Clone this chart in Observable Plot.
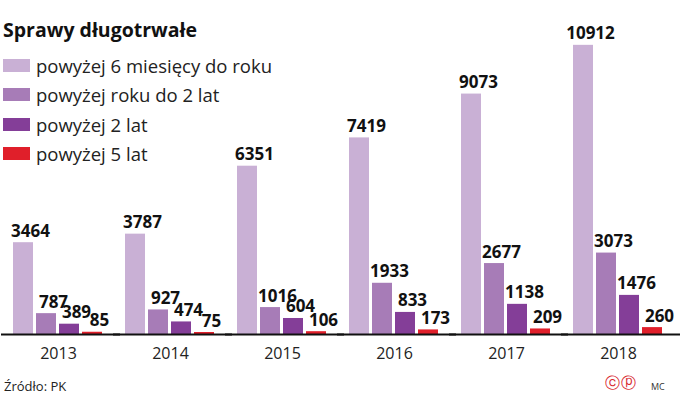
<!DOCTYPE html>
<html>
<head>
<meta charset="utf-8">
<script src="https://cdn.jsdelivr.net/npm/d3@7"></script>
<script src="https://cdn.jsdelivr.net/npm/@observablehq/plot@0.6"></script>
<style>
  html, body { margin: 0; padding: 0; background: #fff; }
  #wrap { position: relative; width: 680px; height: 399px; overflow: hidden; font-family: "Open Sans", sans-serif; color: #222; }
  #chart { position: absolute; left: 0; top: 0; }
  .title { position: absolute; left: 3px; top: 16px; font-size: 19.5px; font-weight: 700; color: #111; white-space: nowrap; }
  .legend { position: absolute; left: 3px; top: 51px; }
  .row { display: flex; align-items: center; height: 29.3px; font-size: 18.5px; color: #222; white-space: nowrap; }
  .sw { width: 27px; height: 13px; margin-right: 6px; }
  .src { position: absolute; left: 4px; top: 377px; font-size: 13px; color: #222; }
  .logo { position: absolute; left: 605px; top: 374px; font-size: 15px; color: #d8262e; font-family: "DejaVu Sans", sans-serif; letter-spacing: 1px; }
  .mc { position: absolute; left: 651px; top: 380px; font-size: 9px; color: #333; }
</style>
</head>
<body>
<div id="wrap">
  <div id="chart"></div>
  <div class="title">Sprawy długotrwałe</div>
  <div class="legend" id="legend"></div>
  <div class="src">Źródło: PK</div>
  <div class="logo">ⓒⓟ</div>
  <div class="mc">MC</div>
</div>
<script>
const years = ["2013", "2014", "2015", "2016", "2017", "2018"];
const seriesNames = ["powyżej 6 miesięcy do roku", "powyżej roku do 2 lat", "powyżej 2 lat", "powyżej 5 lat"];
const colors = ["#c9b0d5", "#a77cb7", "#843e98", "#e01f2a"];
const s6mTo1y = [3464, 3787, 6351, 7419, 9073, 10912];
const s1yTo2y = [787, 927, 1016, 1933, 2677, 3073];
const sOver2y = [389, 474, 604, 833, 1138, 1476];
const sOver5y = [85, 75, 106, 173, 209, 260];

const seriesValues = [s6mTo1y, s1yTo2y, sOver2y, sOver5y];
const data = [];
years.forEach((year, i) => {
  seriesNames.forEach((s, j) => {
    data.push({year, series: s, value: seriesValues[j][i]});
  });
});

const chart = Plot.plot({
  width: 680,
  height: 370,
  marginLeft: 13,
  marginRight: 17,
  marginTop: 16,
  marginBottom: 36,
  style: {fontFamily: "Open Sans, sans-serif", fontSize: "16px", color: "#222", background: "transparent"},
  fx: {domain: years, paddingInner: 0.2, paddingOuter: 0, axis: "bottom", tickSize: 0, tickPadding: 13, label: null},
  x: {domain: seriesNames, paddingInner: 0.12, paddingOuter: 0, axis: null},
  y: {domain: [0, 12000], axis: null},
  color: {domain: seriesNames, range: colors},
  marks: [
    Plot.barY(data, {fx: "year", x: "series", y: "value", fill: "series"}),
    Plot.ruleY([0], {stroke: "#111", strokeWidth: 2, insetLeft: -12, insetRight: -17}),
    Plot.text(data, {
      fx: "year", x: "series", y: "value", text: d => String(d.value),
      lineAnchor: "bottom", dy: -6, dx: 7,
      fontSize: 17, fontWeight: "bold", fill: "#111",
      fontFamily: "Open Sans, sans-serif", letterSpacing: "-0.4px"
    })
  ]
});
document.getElementById("chart").appendChild(chart);

const legend = document.getElementById("legend");
seriesNames.forEach((s, j) => {
  const row = document.createElement("div");
  row.className = "row";
  const sw = document.createElement("span");
  sw.className = "sw";
  sw.style.background = colors[j];
  const lab = document.createElement("span");
  lab.textContent = s;
  row.appendChild(sw);
  row.appendChild(lab);
  legend.appendChild(row);
});
</script>
</body>
</html>
